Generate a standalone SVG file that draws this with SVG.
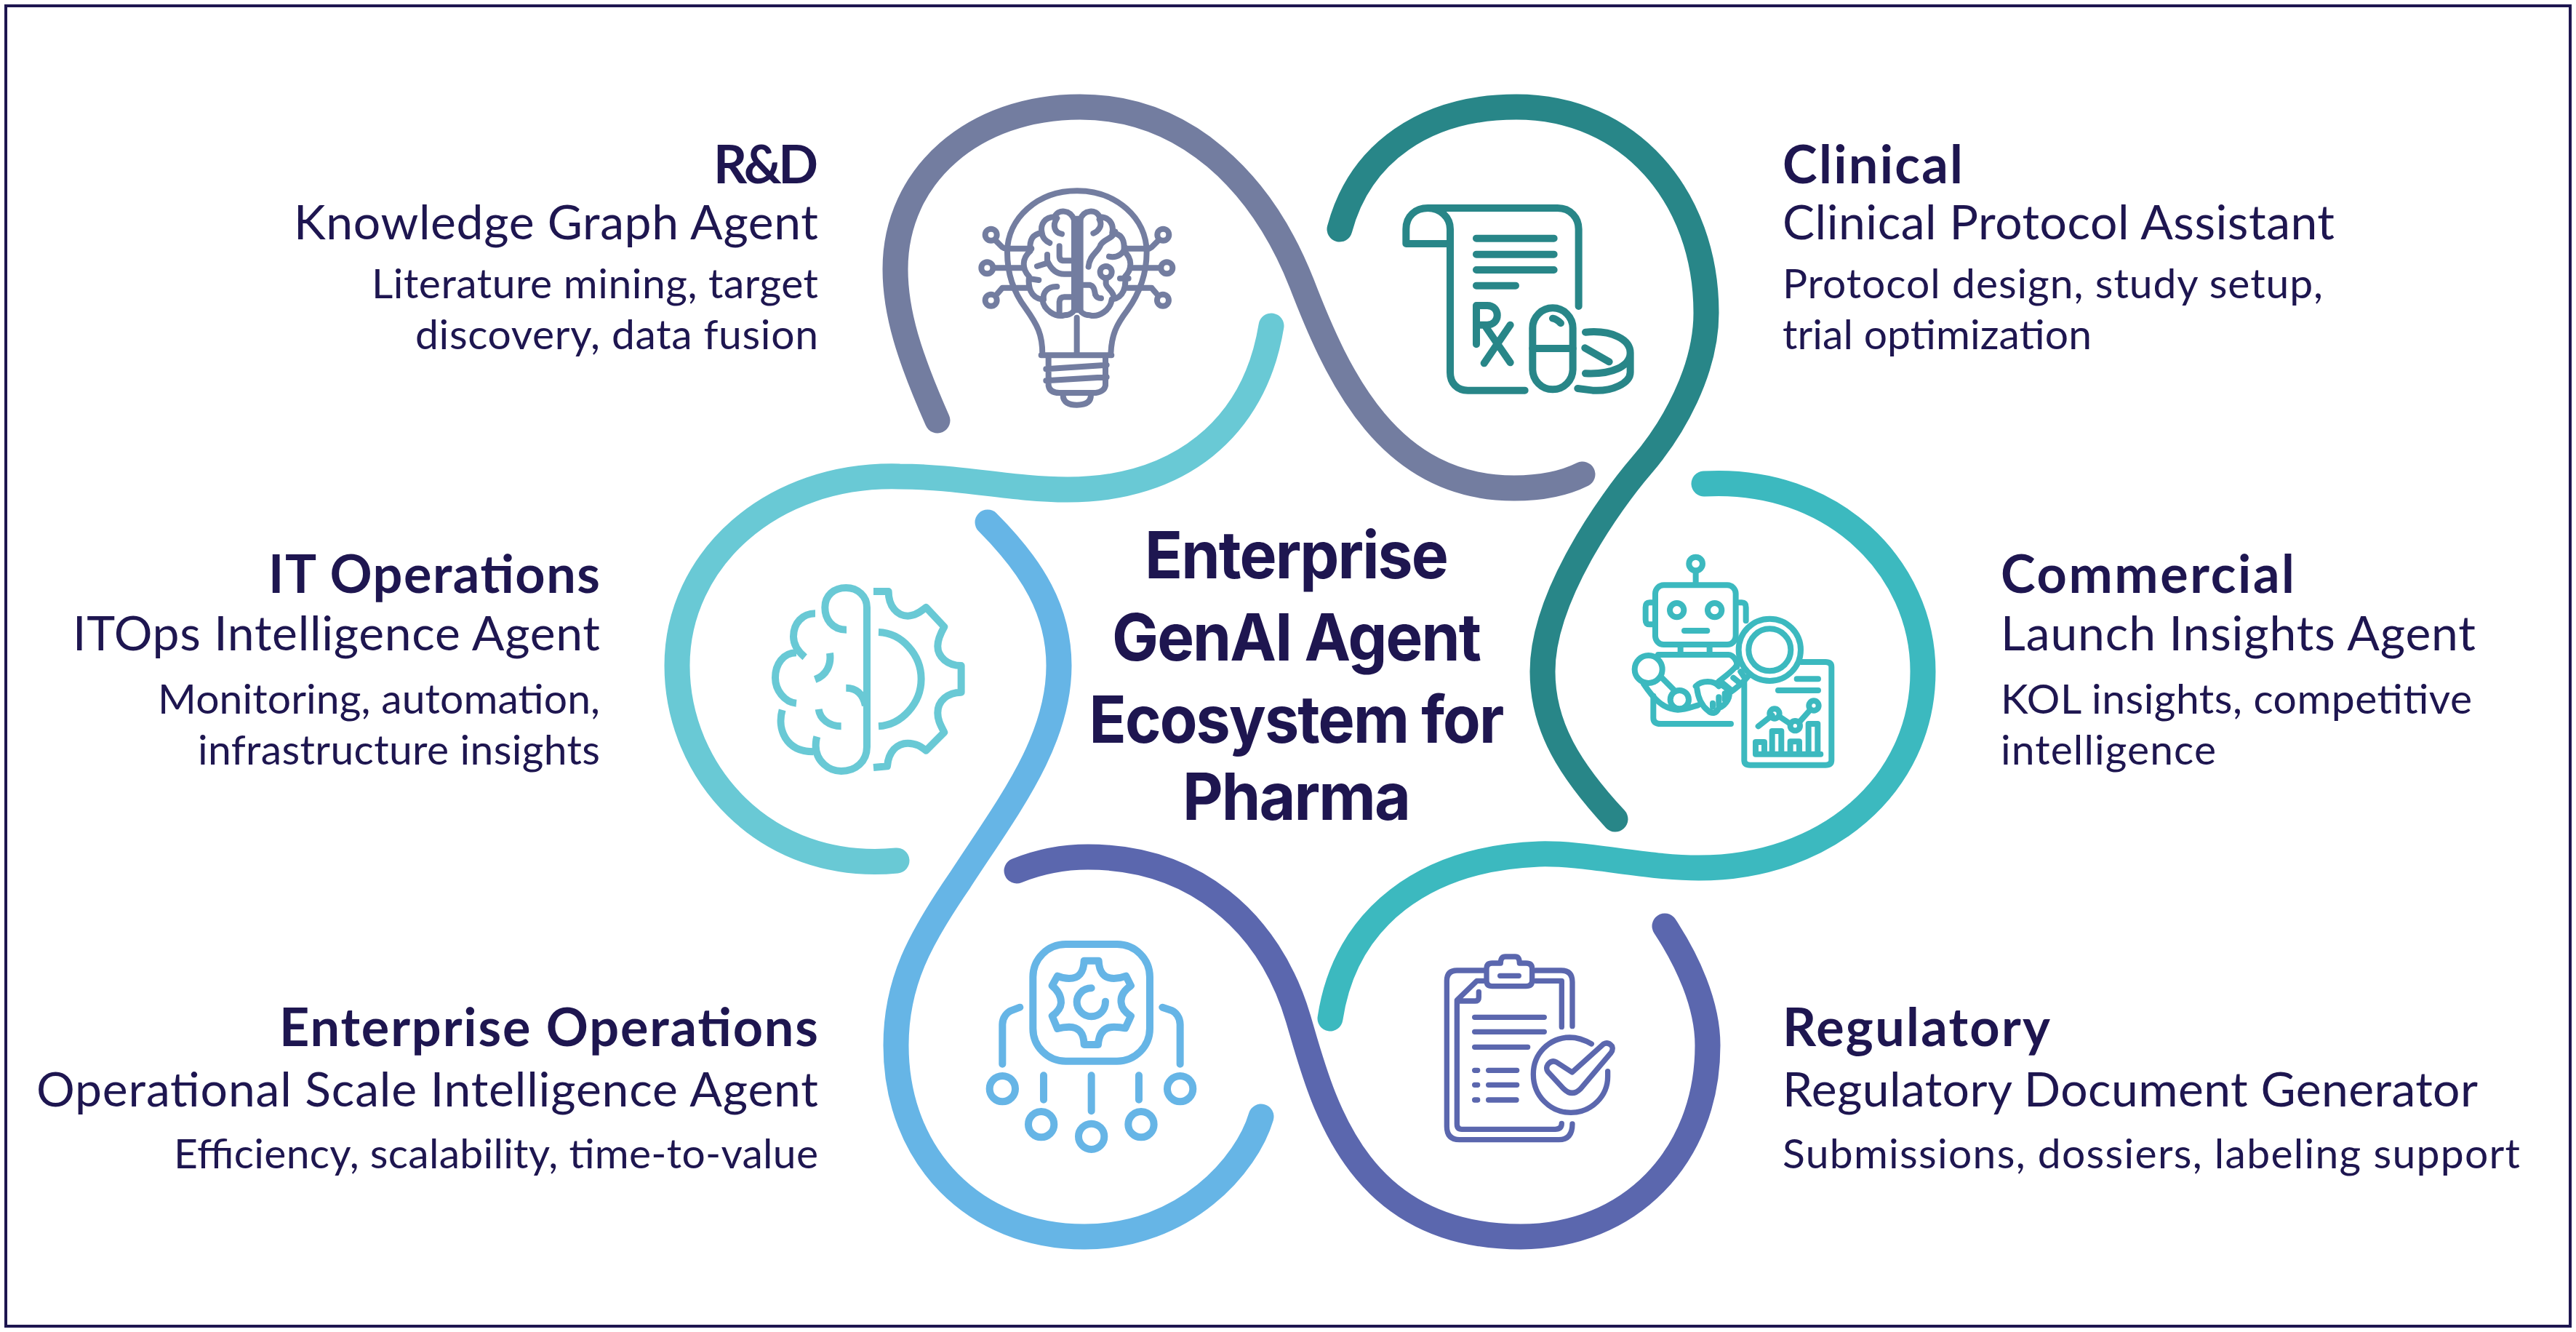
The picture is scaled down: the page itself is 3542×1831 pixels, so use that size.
<svg xmlns="http://www.w3.org/2000/svg" width="3542" height="1831" viewBox="0 0 3542 1831">
<style>
text{fill:#1E1650;font-family:"Lato","Liberation Sans",sans-serif}
.h{font-size:72px;font-weight:700}
.s{font-size:66px;font-weight:400}
.d{font-size:57px;font-weight:400}
.t{font-size:90px;font-weight:700;font-family:"Inter","Liberation Sans",sans-serif;text-anchor:middle;letter-spacing:-2px}
.e{text-anchor:end}
.r{fill:none;stroke-width:35;stroke-linecap:round;stroke-linejoin:round}
.i{fill:none;stroke-linecap:round;stroke-linejoin:round}
.b{stroke-linecap:butt}
</style>
<rect x="8" y="8" width="3526" height="1815" fill="#fff" stroke="#1E1650" stroke-width="4"/>
<g id="connectors">
<path class="r" stroke="#737DA0" d="M1289 578C1250 490 1231 430 1231 370C1231 240 1340 147 1485 147C1630 147 1735 250 1790 390C1840 520 1910 671 2082 671C2120 671 2150 665 2176 652"/>
<path class="r" stroke="#288688" d="M1842 315C1870 210 1960 147 2085 147C2240 147 2346 270 2346 430C2346 510 2300 590 2257 640C2214 690 2121 820 2121 923C2121 1000 2160 1060 2221 1126"/>
<path class="r" stroke="#3CB9BF" d="M2343 665C2520 655 2644 780 2644 923C2644 1080 2510 1193 2336 1193C2260 1193 2180 1172 2116 1174C1960 1180 1850 1260 1829 1400"/>
<path class="r" stroke="#69C9D5" d="M1233 1183C1050 1200 931 1060 931 915C931 770 1060 650 1237 655C1320 655 1390 673 1468 673C1620 673 1725 590 1748 448"/>
<path class="r" stroke="#66B5E6" d="M1358 718C1420 780 1456 840 1456 915C1456 1020 1385 1110 1320 1210C1265 1290 1232 1350 1232 1437C1232 1590 1340 1700 1491 1700C1630 1700 1715 1600 1734 1535"/>
<path class="r" stroke="#5B67AE" d="M1398 1197C1430 1184 1465 1178 1496 1178C1640 1178 1745 1265 1785 1400C1817 1508 1860 1700 2091 1700C2240 1700 2348 1590 2348 1437C2348 1380 2320 1320 2289 1273"/>
</g>
<g id="center"><text class="t" x="1782" y="795" textLength="416" lengthAdjust="spacingAndGlyphs">Enterprise</text><text class="t" x="1782" y="908" textLength="506" lengthAdjust="spacingAndGlyphs">GenAI Agent</text><text class="t" x="1782" y="1021" textLength="569" lengthAdjust="spacingAndGlyphs">Ecosystem for</text><text class="t" x="1782" y="1127" textLength="312" lengthAdjust="spacingAndGlyphs">Pharma</text></g>
<g id="rnd">
<g class="i" stroke="#737DA0" stroke-width="24" transform="translate(1320 230) scale(.3333)">
<path d="M340 770C340 690 320 650 270 580C225 520 195 440 195 350C195 210 320 97 483 97C646 97 770 210 770 350C770 440 740 520 690 590C645 650 625 690 622 770M335 775H625M482 620V770M365 780V900Q370 930 410 930H560Q595 925 600 900V780M355 832L605 815M355 880L605 865M425 940C425 970 450 980 482 980C515 980 540 970 540 940"/>
<path stroke-width="50" class="b" d="M484 200V600"/>
<path d="M470 215C455 175 405 170 390 205C350 205 330 235 338 270C300 275 285 300 290 345C255 375 255 420 285 450C280 490 290 540 340 545C345 590 395 620 430 610C460 610 475 590 478 570M400 210C380 240 390 270 420 275M338 270C340 290 355 305 370 312M410 325V365Q410 385 430 385H460M360 360V385C375 420 400 440 430 440H460M360 395L318 408M290 460L325 465M400 492C360 490 340 520 345 545M410 600V555Q412 535 430 535H460"/>
<path d="M496 215C511 175 561 170 576 205C616 205 636 235 628 270C666 275 681 300 676 345C711 375 711 420 681 450C686 490 676 540 626 545C621 590 571 620 536 610C506 610 491 590 488 570M575 215C590 240 570 265 550 272M640 265C630 295 595 295 580 320C570 350 535 360 530 410M615 368C650 375 675 355 680 330M602 460V480C605 500 635 510 635 540M510 485H535C555 490 555 510 558 525C565 540 575 540 582 540M660 458H695"/>
<circle cx="602" cy="432" r="24"/><circle cx="128" cy="278" r="24"/><circle cx="112" cy="415" r="24"/><circle cx="128" cy="548" r="24"/><circle cx="838" cy="278" r="24"/><circle cx="853" cy="415" r="24"/><circle cx="837" cy="548" r="24"/>
<path d="M195 335H295M140 415H260M180 497H280M150 305L175 330Q185 338 200 335M155 520L175 497H205M690 335H780M705 415H825M690 497H790M815 305L790 330Q780 338 770 335M810 520L790 497H770"/>
</g>
<text class="h e" x="1125" y="252" textLength="144">R&amp;D</text><text class="s e" x="1125" y="329" textLength="721">Knowledge Graph Agent</text><text class="d e" x="1125" y="410" textLength="614">Literature mining, target</text><text class="d e" x="1125" y="480" textLength="554">discovery, data fusion</text>
</g>
<g id="clinical">
<g class="i" stroke="#288688" stroke-width="30" transform="translate(1900 260) scale(.3333)">
<path d="M100 225V165C100 110 140 78 190 78H725C780 78 812 120 812 165V483M100 225H280M190 78C240 78 282 115 282 165V755C282 800 310 830 355 830H590M390 203H710M390 269H710M390 333H710M390 398H552M390 640V480H435C490 480 490 560 435 560H390M430 570L530 715M530 560L422 718M622 657H788M705 533C720 535 730 545 738 553M840 590C950 580 1025 620 1025 675C1025 730 950 765 840 760M1025 675V755C1025 800 950 835 870 830L808 822M838 655L938 712"/>
<rect x="622" y="490" width="166" height="336" rx="83"/>
</g>
<text class="h" x="2451" y="252" textLength="248">Clinical</text><text class="s" x="2451" y="329" textLength="759">Clinical Protocol Assistant</text><text class="d" x="2451" y="410" textLength="743">Protocol design, study setup,</text><text class="d" x="2451" y="480" textLength="425">trial optimization</text>
</g>
<g id="commercial">
<g class="i" stroke="#3CB9BF" stroke-width="24" transform="translate(2220 740) scale(.3333)">
<circle cx="335" cy="105" r="28"/><path d="M335 135V190"/><rect x="168" y="193" width="332" height="245" rx="35"/><circle cx="257" cy="296" r="29"/><circle cx="413" cy="296" r="29"/>
<path d="M288 381H382M155 265H145Q128 265 128 285V335Q128 355 145 355H155M515 265H525Q542 265 542 285V340M272 445V478M392 445V478M180 480H470C490 480 510 510 505 530"/>
<circle cx="140" cy="540" r="57"/><path d="M120 600C160 660 200 705 260 707C290 708 320 695 345 688M195 575L245 625"/><circle cx="268" cy="665" r="38"/>
<path d="M335 610C360 585 410 585 430 610M340 620C345 660 360 690 385 710C400 725 420 725 430 700C465 685 480 650 470 630C455 605 430 600 420 600M405 680V695M430 655V690M455 640V665M430 590C470 560 500 535 505 520M470 640C500 620 530 595 550 570M450 600L480 625M490 575L515 595M520 550L540 580"/>
<circle cx="640" cy="460" r="87"/><circle cx="640" cy="460" r="128"/>
<path d="M535 590V915Q535 935 560 935H870Q895 935 895 915V530Q895 510 870 510H770M752 580H840M675 627H840M582 890H850M582 890V840H618V885M650 885V795H688V885M725 885V838H762V885M800 885V765H838V885M593 775L650 730M680 735L725 765M765 755L805 710M160 650V740Q160 765 190 765H480"/>
<circle cx="660" cy="723" r="20"/><circle cx="745" cy="773" r="20"/><circle cx="822" cy="690" r="20"/>
</g>
<text class="h" x="2751" y="815" textLength="404">Commercial</text><text class="s" x="2751" y="894" textLength="653">Launch Insights Agent</text><text class="d" x="2751" y="981" textLength="648">KOL insights, competitive</text><text class="d" x="2751" y="1051" textLength="296">intelligence</text>
</g>
<g id="itops">
<g class="i b" stroke="#69C9D5" stroke-width="30" transform="translate(1040 820) scale(.3333)">
<path d="M372 137C310 137 283 90 283 45C283 -5 320 -36 370 -36C420 -36 456 0 456 45V620C456 680 410 720 350 720C300 720 245 680 245 615Q245 595 250 578M243 70C190 70 153 110 153 165C153 195 170 225 200 250M165 232C110 232 78 280 78 335C78 385 115 435 165 440M107 468C85 545 120 640 235 640M303 233C310 280 290 325 242 342M370 377C410 377 440 400 450 450M257 465C262 505 300 535 350 535M504 147C600 150 680 240 680 340C680 440 600 530 504 535M483 -21H545C545 40 580 80 625 80C660 80 685 55 700 45L775 125C755 160 748 180 748 205C748 250 790 285 845 285V395C790 395 748 430 748 480C748 510 760 530 775 560L700 635C680 620 660 605 625 605C580 605 545 640 540 700L483 705"/>
</g>
<text class="h e" x="825" y="815" textLength="456">IT Operations</text><text class="s e" x="825" y="894" textLength="725">ITOps Intelligence Agent</text><text class="d e" x="825" y="981" textLength="608">Monitoring, automation,</text><text class="d e" x="825" y="1051" textLength="553">infrastructure insights</text>
</g>
<g id="enterprise">
<g class="i" stroke="#66B5E6" stroke-width="30" transform="translate(1340 1290) scale(.3333)">
<rect x="241" y="24" width="482" height="482" rx="135"/>
<path d="M452 92H512Q515 165 575 165Q600 165 625 155L645 195Q600 225 605 265Q607 295 645 320L622 370Q600 365 575 365Q515 365 510 438H452Q450 365 390 365Q365 365 342 372L320 320Q355 295 357 265Q357 225 320 195L342 155Q365 165 390 165Q450 165 452 92ZM482 205C445 205 422 235 422 262C422 295 450 322 482 322C515 322 540 295 540 260M115 518V355C115 325 135 305 150 298L187 284M848 518V355C848 325 830 305 815 298L775 284M285 565V665M482 565V712M678 565V665"/>
<circle cx="115" cy="620" r="53"/><circle cx="275" cy="767" r="53"/><circle cx="482" cy="817" r="53"/><circle cx="687" cy="767" r="53"/><circle cx="848" cy="620" r="53"/>
</g>
<text class="h e" x="1125" y="1438" textLength="741">Enterprise Operations</text><text class="s e" x="1125" y="1521" textLength="1075">Operational Scale Intelligence Agent</text><text class="d e" x="1125" y="1606" textLength="886">Efficiency, scalability, time-to-value</text>
</g>
<g id="regulatory">
<g class="i" stroke="#5B67AE" stroke-width="22" transform="translate(1960 1300) scale(.3333)">
<path d="M245 102H130Q88 102 88 145V745Q88 800 140 800H550Q606 800 606 735M455 102H560Q606 102 606 150V332M245 145H212L130 225V735Q130 757 150 757H535Q562 757 562 733M455 145H562V335M130 228H205Q220 228 220 212V190M310 72Q310 45 330 45H370Q388 45 388 72H415Q440 72 440 95V145Q440 167 415 167H275Q252 167 252 145V95Q252 72 275 72ZM308 124H385M203 295H490M203 355H490M203 418H422M203 514H215M203 574H215M203 636H215M260 514H377M260 574H377M260 636H375M685 405C650 385 620 378 595 378C510 380 445 445 445 530C445 620 515 688 600 688C685 688 752 620 752 540V518M505 490Q520 470 540 480L605 522L735 405Q755 395 770 415Q775 430 765 442L640 590Q605 625 570 590L505 520Q495 505 505 490Z"/>
</g>
<text class="h" x="2451" y="1438" textLength="368">Regulatory</text><text class="s" x="2451" y="1521" textLength="956">Regulatory Document Generator</text><text class="d" x="2451" y="1606" textLength="1014">Submissions, dossiers, labeling support</text>
</g>
</svg>
